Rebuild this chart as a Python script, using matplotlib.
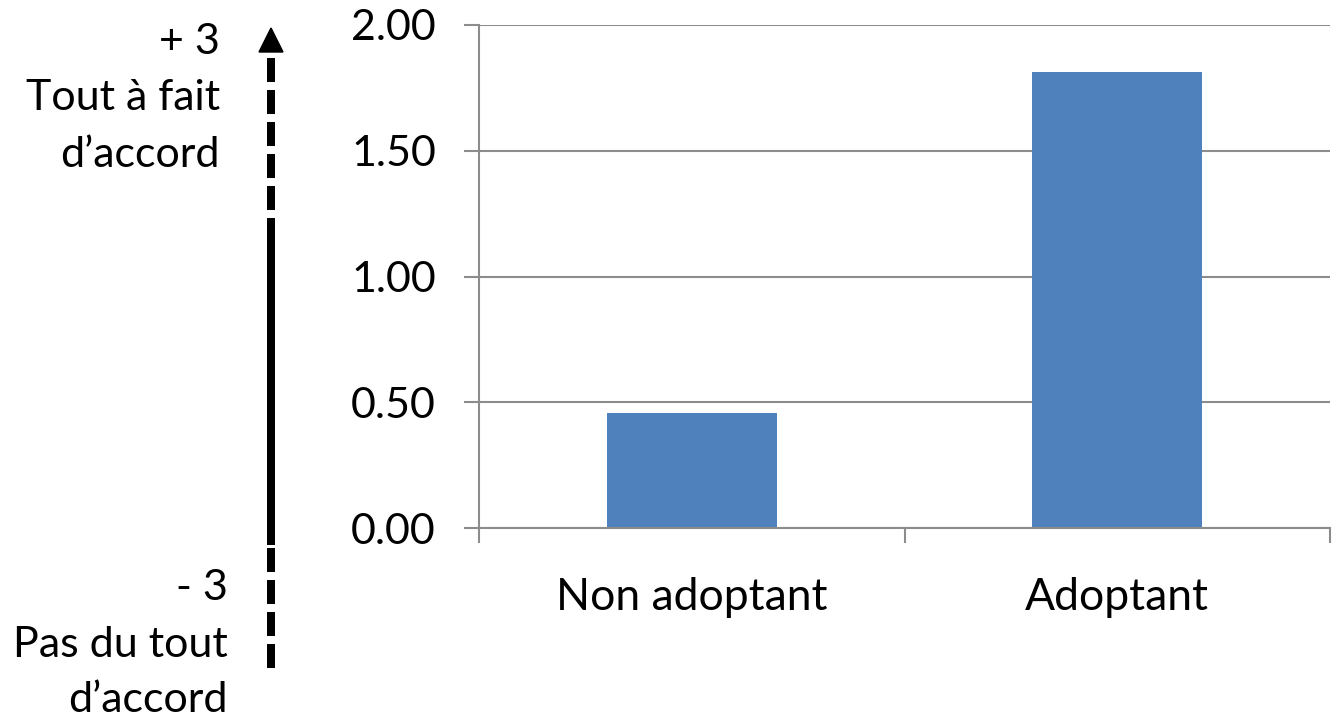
import matplotlib.pyplot as plt
from matplotlib.patches import Polygon

plt.rcParams['font.family'] = ['Lato', 'DejaVu Sans']

categories = ["Non adoptant", "Adoptant"]
values = [0.457, 1.813]
yticks = [0.0, 0.5, 1.0, 1.5, 2.0]

W, H = 1335, 721
fig = plt.figure(figsize=(W / 100, H / 100), dpi=100)

ax = fig.add_axes([479 / W, 1 - 528 / H, (1330 - 479) / W, (528 - 25) / H])
ax.bar(range(len(categories)), values, width=0.4, color="#4f81bd", zorder=2)
ax.set_xlim(-0.5, len(categories) - 0.5)
ax.set_ylim(0, 2.0)
ax.set_yticks(yticks)
ax.set_yticklabels(["%.2f" % v for v in yticks])
ax.set_xticks(range(len(categories)))
ax.set_xticklabels(categories)
ax.set_xticks([-0.5, 0.5, 1.5], minor=True)
ax.grid(axis="y", color="#8c8c8c", linewidth=1.5, zorder=0)
for s in ["top", "right"]:
    ax.spines[s].set_visible(False)
ax.spines["left"].set_color("#8c8c8c")
ax.spines["bottom"].set_color("#8c8c8c")
ax.spines["left"].set_linewidth(1.5)
ax.spines["bottom"].set_linewidth(1.5)
ax.tick_params(axis="y", length=11, width=1.5, color="#8c8c8c", labelsize=31, pad=20)
ax.tick_params(axis="x", which="major", length=0, labelsize=32, pad=35)
ax.tick_params(axis="x", which="minor", length=11, width=1.5, color="#8c8c8c")

# left-hand scale annotation, in pixel coordinates
ov = fig.add_axes([0, 0, 1, 1], facecolor="none")
ov.set_xlim(0, W)
ov.set_ylim(H, 0)
ov.axis("off")

lw = 8 * 72 / 100
x0 = 271
ov.plot([x0, x0], [58, 214], color="black", lw=lw, dashes=(3, 1), solid_capstyle="butt", dash_capstyle="butt")
ov.plot([x0, x0], [218, 545], color="black", lw=lw, solid_capstyle="butt")
ov.plot([x0, x0], [548, 670], color="black", lw=lw, dashes=(3, 1), solid_capstyle="butt", dash_capstyle="butt")
ov.add_patch(Polygon([[x0 - 12, 52], [x0 + 12, 52], [x0, 28]], closed=True, color="black"))

fs = 31
ov.text(220, 42, "+ 3", ha="right", va="center", fontsize=fs)
ov.text(220, 98, "Tout à fait", ha="right", va="center", fontsize=fs)
ov.text(220, 155, "d\u2019accord", ha="right", va="center", fontsize=fs)
ov.text(228, 588, "- 3", ha="right", va="center", fontsize=fs)
ov.text(228, 645, "Pas du tout", ha="right", va="center", fontsize=fs)
ov.text(228, 700, "d\u2019accord", ha="right", va="center", fontsize=fs)

fig.savefig("out.png", dpi=100)
